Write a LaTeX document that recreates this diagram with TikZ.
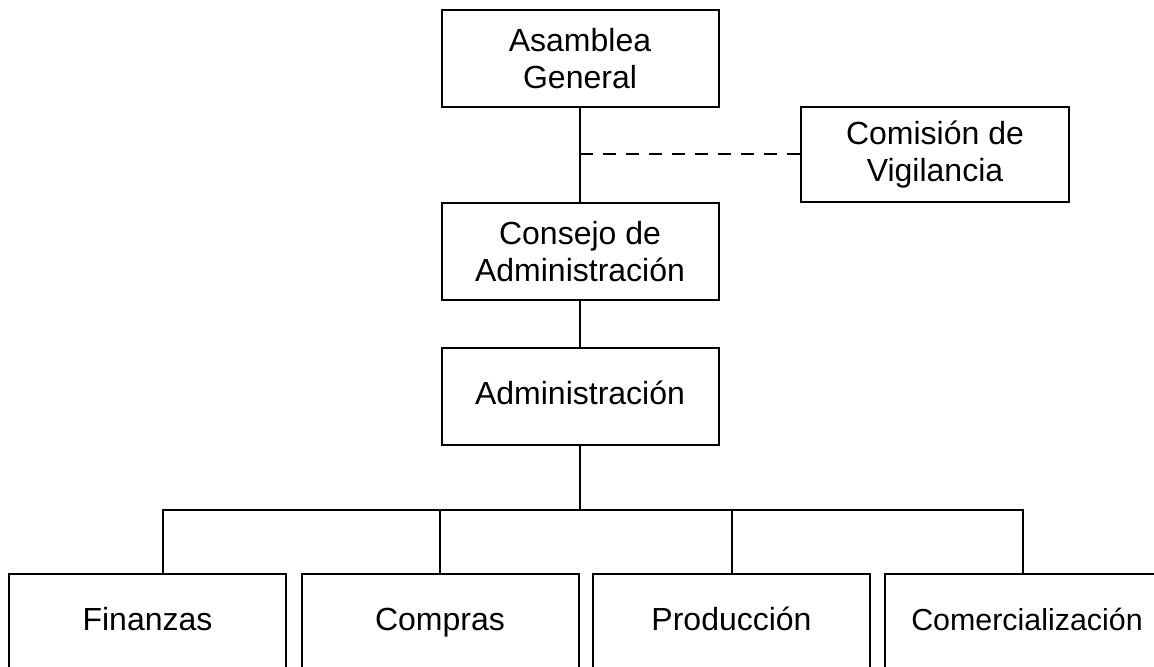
\documentclass[tikz,border=0pt]{standalone}
\usepackage{fontspec}
\setmainfont{Liberation Sans}
\begin{document}
\begin{tikzpicture}[x=0.5pt,y=-0.5pt,line width=1pt,
  caja/.style={draw,align=center,minimum width=138.5pt,minimum height=48.5pt,inner sep=0pt,font=\fontsize{16}{18.5}\selectfont},
  linea/.style={caja,text height=11.5pt,text depth=3.4pt}]
\useasboundingbox (0,0) rectangle (1154,667);

\node[caja] (asamblea) at (580,58.5) {Asamblea\\General};
\node[caja,minimum width=134pt,minimum height=47.5pt] (comision) at (935,154.5) {Comisión de\\Vigilancia};
\node[caja] (consejo) at (580,251.5) {Consejo de\\Administración};
\node[linea] (admin) at (580,396.5) {Administración};

\node[linea] (finanzas) at (147.5,622.5) {Finanzas};
\node[linea] (compras) at (440,622.5) {Compras};
\node[linea] (produccion) at (731.5,622.5) {Producción};
\node[linea,font=\fontsize{15.2}{17.5}\selectfont] (comerc) at (1023,622.5) {\hspace{4pt}Comercialización};

\coordinate (bus) at (580,510);

\draw (asamblea.south) -- (consejo.north);
\draw [dash pattern=on 6.5pt off 5pt] (comision.west) -- (comision.west -| asamblea.south);
\draw (consejo.south) -- (admin.north);
\draw (admin.south) -- (bus);

\draw ([xshift=7.75pt]finanzas.north) |- (bus) -| (comerc.north);
\draw (compras.north) -- (compras.north |- bus);
\draw (produccion.north) -- (produccion.north |- bus);
\end{tikzpicture}
\end{document}
